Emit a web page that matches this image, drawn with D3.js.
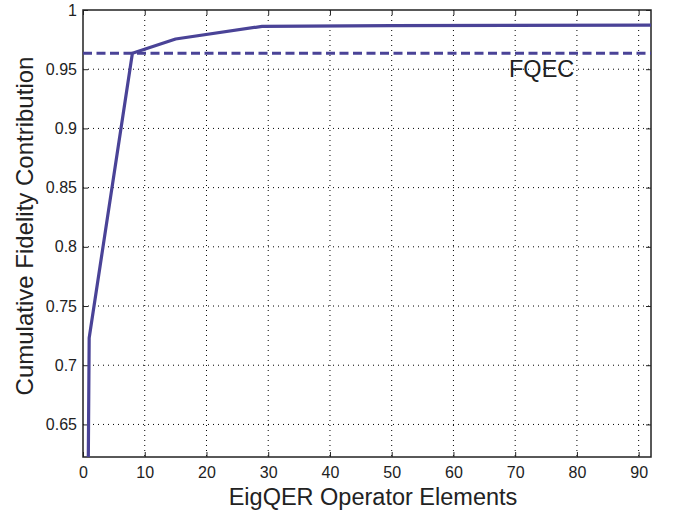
<!DOCTYPE html>
<html>
<head>
<meta charset="utf-8">
<script src="https://cdn.jsdelivr.net/npm/d3@7"></script>
<style>
  body { margin: 0; background: #fff; }
  text { font-family: "Liberation Sans", Arial, sans-serif; fill: #222; }
</style>
</head>
<body>
<script>
// operator elements (x) and cumulative fidelity (y)
var elements = [0, 1, 8, 15, 29, 50, 92];
var fidelity = [0, 0.723, 0.9635, 0.9755, 0.9862, 0.9868, 0.9872];
var fqec = 0.9635;
var xTicks = [0, 10, 20, 30, 40, 50, 60, 70, 80, 90];
var yTicks = [0.65, 0.7, 0.75, 0.8, 0.85, 0.9, 0.95, 1];

var width = 673, height = 510,
    margin = {top: 10, right: 22, bottom: 53, left: 83};
var w = width - margin.left - margin.right,
    h = height - margin.top - margin.bottom;
var colour = "#4a4397";

var svg = d3.select("body").append("svg")
    .attr("width", width)
    .attr("height", height);
var g = svg.append("g")
    .attr("transform", "translate(" + margin.left + "," + margin.top + ")");

var x = d3.scaleLinear().domain([0, 92]).range([0, w]);
var y = d3.scaleLinear().domain([0.6225, 1]).range([h, 0]);

// dotted grid
g.append("g").selectAll("line").data(xTicks.slice(1)).enter().append("line")
    .attr("x1", x).attr("x2", x).attr("y1", 0).attr("y2", h)
    .attr("stroke", "#000").attr("stroke-width", 1).attr("stroke-dasharray", "1,4");
g.append("g").selectAll("line").data(yTicks.slice(0, -1)).enter().append("line")
    .attr("y1", y).attr("y2", y).attr("x1", 0).attr("x2", w)
    .attr("stroke", "#000").attr("stroke-width", 1).attr("stroke-dasharray", "1,4");

// axes, ticks pointing inward like matlab
var xAxis = g.append("g").attr("transform", "translate(0," + h + ")")
    .call(d3.axisBottom(x).tickValues(xTicks).tickSize(-5).tickPadding(10));
var yAxis = g.append("g")
    .call(d3.axisLeft(y).tickValues(yTicks).tickSize(-5).tickPadding(6)
        .tickFormat(function (d) { return d3.format("")(+d.toFixed(2)); }));
var xTop = g.append("g")
    .call(d3.axisTop(x).tickValues(xTicks).tickSize(-5).tickFormat(""));
var yRight = g.append("g").attr("transform", "translate(" + w + ",0)")
    .call(d3.axisRight(y).tickValues(yTicks).tickSize(-5).tickFormat(""));
[xAxis, yAxis, xTop, yRight].forEach(function (a) {
    a.select(".domain").remove();
    a.selectAll("line").attr("stroke", "#222");
    a.selectAll("text").style("font-size", "16px").attr("fill", "#222")
        .style("font-family", "'Liberation Sans', Arial, sans-serif");
});

// box
g.append("rect").attr("width", w).attr("height", h)
    .attr("fill", "none").attr("stroke", "#222").attr("stroke-width", 1.5);

g.append("clipPath").attr("id", "clip")
    .append("rect").attr("width", w).attr("height", h);

var plot = g.append("g").attr("clip-path", "url(#clip)");

// FQEC threshold
plot.append("line")
    .attr("x1", 0).attr("x2", w)
    .attr("y1", y(fqec)).attr("y2", y(fqec))
    .attr("stroke", colour).attr("stroke-width", 3).attr("stroke-dasharray", "9,4.5");

var line = d3.line()
    .x(function (d, i) { return x(elements[i]); })
    .y(function (d) { return y(d); });
plot.append("path").datum(fidelity)
    .attr("d", line)
    .attr("fill", "none").attr("stroke", colour).attr("stroke-width", 3.2)
    .attr("stroke-linejoin", "round");

g.append("text")
    .attr("x", x(69.0)).attr("y", y(fqec) + 24)
    .style("font-size", "23.5px")
    .text("FQEC");

// axis titles
svg.append("text")
    .attr("x", 373).attr("y", 504.5)
    .attr("text-anchor", "middle")
    .style("font-size", "23.5px")
    .text("EigQER Operator Elements");
svg.append("text")
    .attr("transform", "translate(33,226) rotate(-90)")
    .attr("text-anchor", "middle")
    .style("font-size", "24px")
    .text("Cumulative Fidelity Contribution");
</script>
</body>
</html>
